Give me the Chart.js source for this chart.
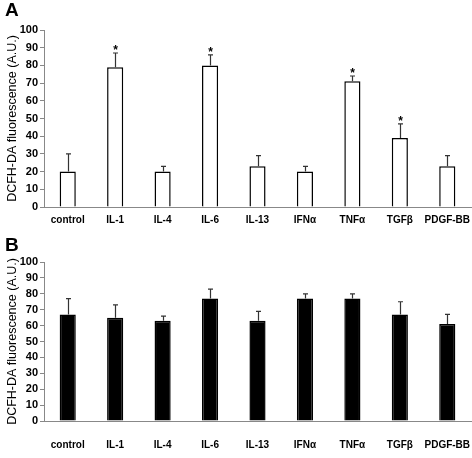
<!DOCTYPE html>
<html>
<head>
<meta charset="utf-8">
<script src="https://cdn.jsdelivr.net/npm/chart.js@4"></script>
<style>
  html, body { margin: 0; padding: 0; background: #fff; }
  #wrap { position: relative; width: 472px; height: 458px; overflow: hidden; }
  .panel { position: absolute; left: 0; width: 472px; }
  .letter { position: absolute; left: 5px; font: bold 19px "Liberation Sans", Arial, sans-serif; color: #000; line-height: 19px; }
</style>
</head>
<body>
<div id="wrap">
  <div class="panel" style="top:0;height:228px"><canvas id="cA" width="472" height="228"></canvas></div>
  <div class="panel" style="top:228px;height:230px"><canvas id="cB" width="472" height="230"></canvas></div>
  <div class="letter" style="top:0px">A</div>
  <div class="letter" style="top:235px">B</div>
</div>
<script>
const categories = ['control', 'IL-1', 'IL-4', 'IL-6', 'IL-13', 'IFNα', 'TNFα', 'TGFβ', 'PDGF-BB'];
const meanA = [20, 79, 20, 80, 23, 20, 71, 39, 23];
const sdA   = [10, 8, 3, 6, 6, 3, 3, 8, 6];
const sigA  = [false, true, false, true, false, false, true, true, false];
const meanB = [67, 65, 63, 77, 63, 77, 77, 67, 61];
const sdB   = [10, 8, 3, 6, 6, 3, 3, 8, 6];
const sigB  = [false, false, false, false, false, false, false, false, false];
const yTicks = [0, 10, 20, 30, 40, 50, 60, 70, 80, 90, 100];
const yTitle = 'DCFH-DA fluorescence (A.U.)';

const FONT = '"Liberation Sans", Arial, sans-serif';

const errorBarPlugin = {
  id: 'errbars',
  afterDatasetsDraw(chart, args, opts) {
    const ctx = chart.ctx;
    const ys = chart.scales.y;
    const meta = chart.getDatasetMeta(0);
    ctx.save();
    meta.data.forEach((el, i) => {
      const v = opts.mean[i] + opts.sd[i];
      const yE = ys.getPixelForValue(v);
      const x = Math.round(el.x) + 0.5;
      ctx.strokeStyle = '#333';
      ctx.lineWidth = 1.2;
      ctx.beginPath();
      ctx.moveTo(x, el.y);
      ctx.lineTo(x, yE);
      ctx.moveTo(x - 2.5, yE);
      ctx.lineTo(x + 2.5, yE);
      ctx.stroke();
      if (opts.sig[i]) {
        ctx.fillStyle = '#000';
        ctx.font = 'bold 12px ' + FONT;
        ctx.textAlign = 'center';
        ctx.textBaseline = 'alphabetic';
        ctx.fillText('*', x, yE + 1);
      }
    });
    ctx.restore();
  }
};

function makeChart(id, means, sds, sigs, fill, topPad, bottomH, labelGap) {
  return new Chart(document.getElementById(id), {
    type: 'bar',
    data: {
      labels: categories,
      datasets: [{
        data: means,
        backgroundColor: fill,
        borderColor: '#000',
        borderWidth: 1.5,
        borderSkipped: 'bottom',
        barPercentage: 0.34,
        categoryPercentage: 1
      }]
    },
    options: {
      responsive: false,
      animation: false,
      layout: { padding: { top: topPad, right: 1, left: 0, bottom: 0 } },
      plugins: {
        legend: { display: false },
        tooltip: { enabled: false },
        errbars: { mean: means, sd: sds, sig: sigs }
      },
      scales: {
        x: {
          grid: { display: true, drawOnChartArea: false, drawTicks: true, tickLength: labelGap, tickColor: 'rgba(0,0,0,0)' },
          border: { display: true, color: '#888', width: 1 },
          ticks: { color: '#000', font: { family: FONT, size: 10, weight: 'bold' }, padding: 0, maxRotation: 0, autoSkip: false },
          afterFit(s) { s.height = bottomH; }
        },
        y: {
          min: 0, max: 100,
          afterBuildTicks(s) { s.ticks = yTicks.map(v => ({ value: v })); },
          grid: { drawOnChartArea: false, drawTicks: true, tickLength: 4, color: '#888' },
          border: { display: true, color: '#888', width: 1 },
          ticks: { color: '#000', font: { family: FONT, size: 11, weight: 'bold' }, padding: 2, autoSkip: false },
          title: { display: true, text: yTitle, color: '#000', font: { family: FONT, size: 12.5 }, padding: { top: 5, bottom: 0 } },
          afterFit(s) { s.width = 44; }
        }
      }
    },
    plugins: [errorBarPlugin]
  });
}

makeChart('cA', meanA, sdA, sigA, '#fff', 30, 21, 7);
makeChart('cB', meanB, sdB, sigB, '#000', 34, 37, 18);
</script>
</body>
</html>
